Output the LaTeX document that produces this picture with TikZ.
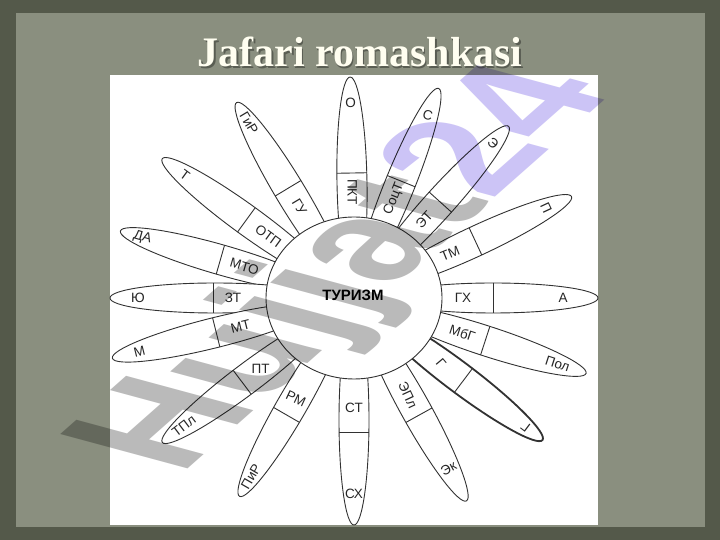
\documentclass[tikz,border=0pt]{standalone}
\usepackage{fontspec}
\setmainfont{Liberation Sans}
\newfontfamily\titlefont{Liberation Serif}

\definecolor{slideedge}{RGB}{84,89,74}
\definecolor{slidepanel}{RGB}{138,143,127}
\definecolor{petalline}{RGB}{50,50,50}
\definecolor{markgray}{RGB}{186,186,186}
\definecolor{marklilac}{RGB}{204,196,246}

\begin{document}
\begin{tikzpicture}[x=1pt,y=1pt,
  petal/.style={draw=petalline,line width=0.9pt},
  lbl/.style={font=\fontsize{13.5}{13.5}\selectfont,inner sep=0pt,text=black!85}]
  \useasboundingbox (0,0) rectangle (720,540);
  \fill[slideedge] (0,0) rectangle (720,540);
  \fill[slidepanel] (16,13) rectangle (705,527); % paper panel
  \fill[white] (110,15) rectangle (598,465); % picture
  \coordinate (ctr) at (354,242);

  \foreach \ang/\len/\cut/\lw/\ri/\rti/\ro/\rto/\inn/\out [count=\i] in {
      0/244/139/0.9/109/0/209/0/ГХ/А,
      25/240/134/0.9/106/22/212/-65/ТМ/П,
      48/231/129/0.9/105/48/208/-42/ЭТ/Э,
      68/226/126/0.9/107/68/197/-15/СоцТ/С,
      91/221/125/0.9/106/-90/195/0/ПКТ/О,
      121/228/128/0.9/106/-59/204/-59/ГУ/ГиР,
      144/237/133/0.9/106/-36/209/-36/ОТП/Т,
      164/243/139/0.9/114/-16/220/-16/МТО/ДА,
      180/244/141/0.9/121/0/216/0/ЗТ/Ю,
      194/249/142/0.9/117/14/221/14/МТ/М,
      217/240/140/0.9/117/0/213/37/ПТ/ТПл,
      240/229/135/0.9/116/-25/206/60/РМ/ПиР,
      270/227/134/0.9/110/0/196/0/СТ/СХ,
      299/232/134/0.9/111/-65/195/29/ЭПл/Эк,
      323/236/137/1.8/109/-50/215/143/Г/Г,
      342/244/138/0.9/114/-18/214/-18/МбГ/Пол}
  {
    \begin{scope}[shift={(ctr)},rotate=\ang]
      \pgfmathsetmacro\mid{\len-105}
      \fill[white] (\mid,0) ellipse [x radius=105,y radius=15];
      \begin{scope}
        \clip (\mid,0) ellipse [x radius=105,y radius=15];
        \draw[petal] (\cut,-20) -- (\cut,20); % divider
      \end{scope}
      \draw[petal,line width=\lw pt] (\mid,0) ellipse [x radius=105,y radius=15];
      \node[lbl,rotate=\rti] (in\i) at (\ri,0) {\inn};
      \node[lbl,rotate=\rto] (out\i) at (\ro,0) {\out};
    \end{scope}
  }

  \draw[petal,fill=white] (ctr) ellipse [x radius=88,y radius=81]; % heart
  \node[font=\bfseries\fontsize{15}{15}\selectfont] (tour) at (353,245) {ТУРИЗМ};

  \node[font=\titlefont\bfseries\fontsize{42}{42}\selectfont,text=black,opacity=0.35,anchor=base] (titleshadow) at (361.5,471) {Jafari romashkasi};
  \node[font=\titlefont\bfseries\fontsize{42}{42}\selectfont,text=white!94!yellow,anchor=base] (title) at (360,473) {Jafari romashkasi};

  \begin{scope}[blend mode=multiply]
    \node[font=\bfseries\fontsize{100}{100}\selectfont,inner sep=0pt,anchor=base west,
      cm={1.12,0.99,-1.85,0.50,(0,0)}] (mark) at (180,64)
      {\textcolor{markgray}{Hujjat}\textcolor{marklilac}{24}}; % watermark
  \end{scope}
\end{tikzpicture}
\end{document}
